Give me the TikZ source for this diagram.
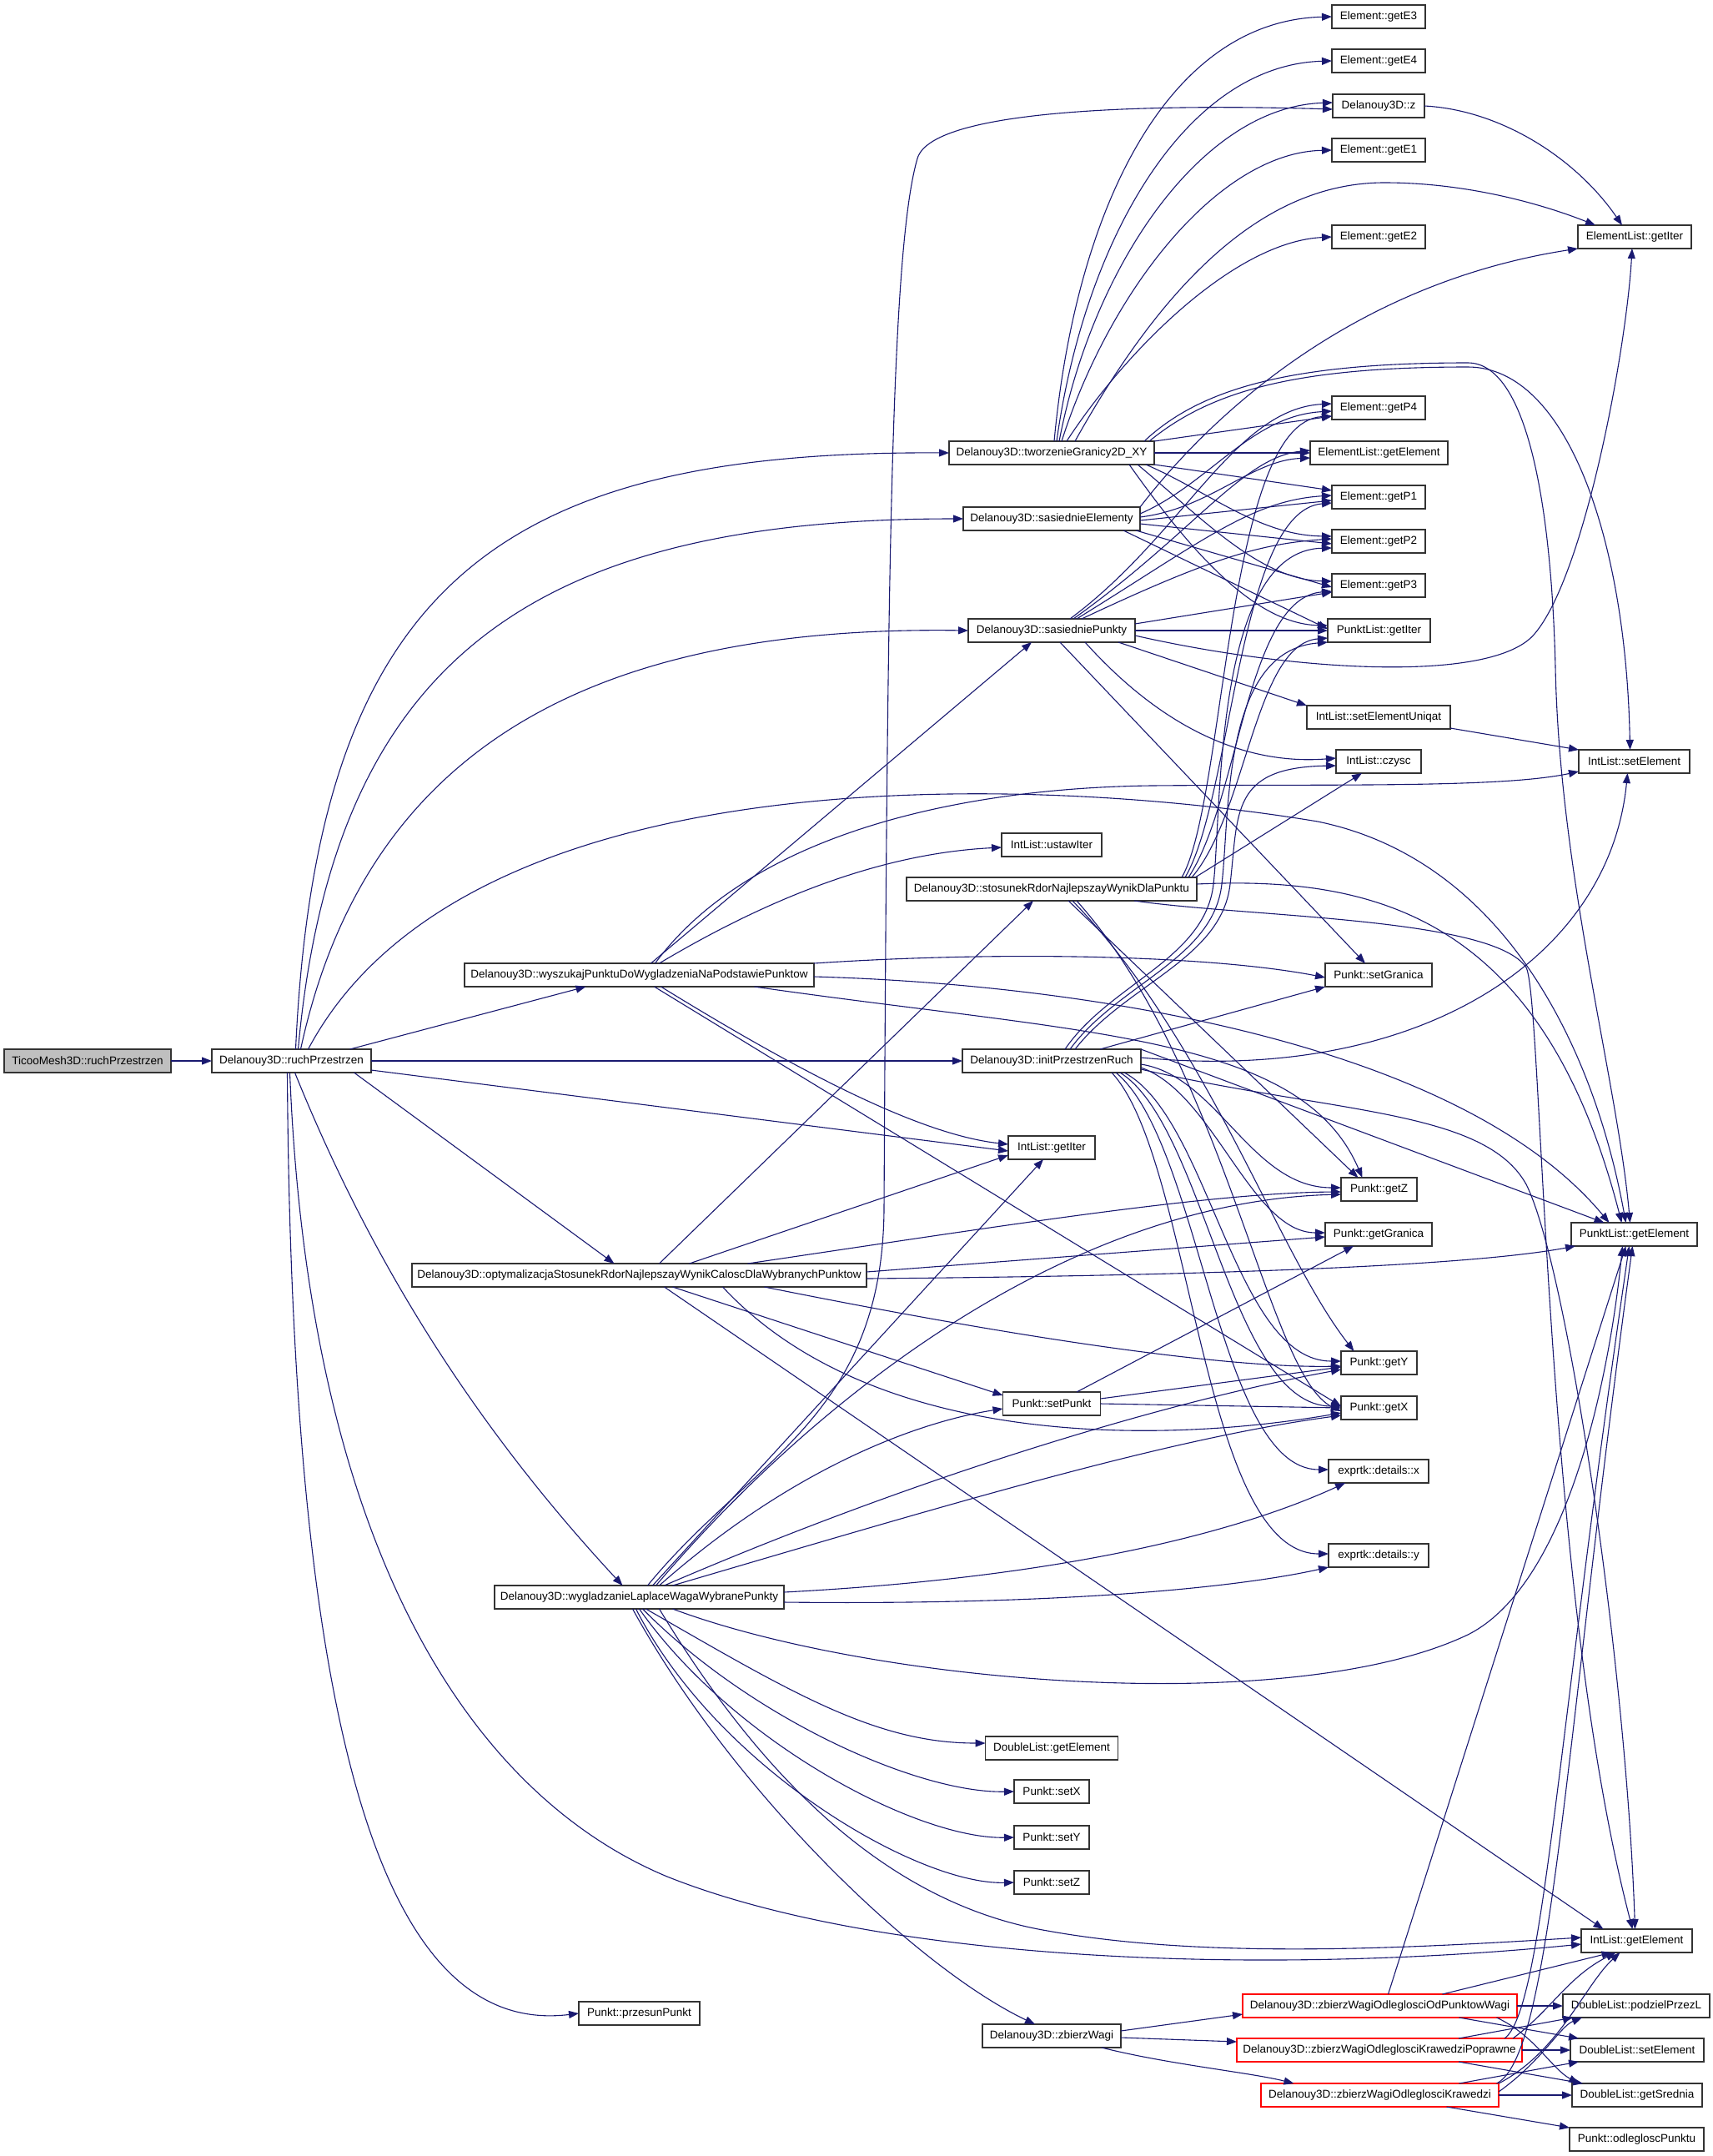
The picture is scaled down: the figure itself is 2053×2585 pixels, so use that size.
\documentclass[tikz,border=0pt]{standalone}
\usepackage{fontspec}
\setmainfont{Liberation Sans}
\usetikzlibrary{arrows.meta}
\definecolor{edgeblue}{HTML}{191970}
\definecolor{rootgray}{HTML}{BFBFBF}
\definecolor{boxline}{HTML}{333333}
\begin{document}
\begin{tikzpicture}[x=1pt,y=-1pt,
				func/.style={draw=boxline,line width=1.6pt,fill=white,minimum height=28pt,inner xsep=5pt,inner ysep=0pt,outer sep=0pt,font=\fontsize{13.5}{15}\selectfont},
				rootfunc/.style={func,fill=rootgray},
				cutfunc/.style={func,draw=red},
				call/.style={draw=edgeblue,line width=1.1pt,-{Triangle[length=12pt,width=9pt]}}]
				\useasboundingbox (0,0) rectangle (2053,2585);
				\node[rootfunc,minimum width=200] (tmesh)   at (105,1272)    {TicooMesh3D::ruchPrzestrzen};
				\node[func,minimum width=191]     (druch)   at (349.5,1272)  {Delanouy3D::ruchPrzestrzen};
				\node[func,minimum width=419]     (wyszuk)  at (766.5,1169)  {Delanouy3D::wyszukajPunktuDoWygladzeniaNaPodstawiePunktow};
				\node[func,minimum width=545]     (optym)   at (766.5,1529)  {Delanouy3D::optymalizacjaStosunekRdorNajlepszayWynikCaloscDlaWybranychPunktow};
				\node[func,minimum width=347]     (wygl)    at (766.5,1915)  {Delanouy3D::wygladzanieLaplaceWagaWybranePunkty};
				\node[func,minimum width=145]     (przes)   at (766.5,2414)  {Punkt::przesunPunkt};
				\node[func,minimum width=246]     (tworz)   at (1261,543)    {Delanouy3D::tworzenieGranicy2D\_XY};
				\node[func,minimum width=212]     (sasEl)   at (1261,622)    {Delanouy3D::sasiednieElementy};
				\node[func,minimum width=200]     (sasPk)   at (1261,756)    {Delanouy3D::sasiedniePunkty};
				\node[func,minimum width=120]     (ustaw)   at (1261,1013)   {IntList::ustawIter};
				\node[func,minimum width=348]     (stosun)  at (1261,1066)   {Delanouy3D::stosunekRdorNajlepszayWynikDlaPunktu};
				\node[func,minimum width=214]     (initP)   at (1261,1272)   {Delanouy3D::initPrzestrzenRuch};
				\node[func,minimum width=104]     (ilIter)  at (1261,1376)   {IntList::getIter};
				\node[func,minimum width=117]     (setPk)   at (1261,1683)   {Punkt::setPunkt};
				\node[func,minimum width=159]     (dlGetEl) at (1261,2096)   {DoubleList::getElement};
				\node[func,minimum width=90]      (setX)    at (1261,2148)   {Punkt::setX};
				\node[func,minimum width=90]      (setY)    at (1261,2203)   {Punkt::setY};
				\node[func,minimum width=90]      (setZ)    at (1261,2257)   {Punkt::setZ};
				\node[func,minimum width=166]     (zbierz)  at (1261,2441)   {Delanouy3D::zbierzWagi};
				\node[func,minimum width=112]     (getE3)   at (1653,20)     {Element::getE3};
				\node[func,minimum width=112]     (getE4)   at (1653,73)     {Element::getE4};
				\node[func,minimum width=110]     (d3z)     at (1653,127)    {Delanouy3D::z};
				\node[func,minimum width=112]     (getE1)   at (1653,180)    {Element::getE1};
				\node[func,minimum width=112]     (getE2)   at (1653,284)    {Element::getE2};
				\node[func,minimum width=112]     (getP4)   at (1653,489)    {Element::getP4};
				\node[func,minimum width=165]     (elGetEl) at (1653.5,543)  {ElementList::getElement};
				\node[func,minimum width=112]     (getP1)   at (1653,596)    {Element::getP1};
				\node[func,minimum width=112]     (getP2)   at (1653,649)    {Element::getP2};
				\node[func,minimum width=112]     (getP3)   at (1653,702)    {Element::getP3};
				\node[func,minimum width=123]     (plIter)  at (1653.5,756)  {PunktList::getIter};
				\node[func,minimum width=172]     (setElU)  at (1653,860)    {IntList::setElementUniqat};
				\node[func,minimum width=102]     (czysc)   at (1653,913)    {IntList::czysc};
				\node[func,minimum width=128]     (setGran) at (1653,1169)   {Punkt::setGranica};
				\node[func,minimum width=91]      (getZ)    at (1653.5,1426) {Punkt::getZ};
				\node[func,minimum width=128]     (getGran) at (1653,1480)   {Punkt::getGranica};
				\node[func,minimum width=91]      (getY)    at (1653.5,1634) {Punkt::getY};
				\node[func,minimum width=91]      (getX)    at (1653.5,1688) {Punkt::getX};
				\node[func,minimum width=120]     (exX)     at (1653,1764)   {exprtk::details::x};
				\node[func,minimum width=120]     (exY)     at (1653,1865)   {exprtk::details::y};
				\node[cutfunc,minimum width=329]  (zbOdP)   at (1654.5,2405) {Delanouy3D::zbierzWagiOdleglosciOdPunktowWagi};
				\node[cutfunc,minimum width=342]  (zbKrP)   at (1654,2458)   {Delanouy3D::zbierzWagiOdleglosciKrawedziPoprawne};
				\node[cutfunc,minimum width=285]  (zbKr)    at (1654.5,2512) {Delanouy3D::zbierzWagiOdleglosciKrawedzi};
				\node[func,minimum width=136]     (elIter)  at (1960,284)    {ElementList::getIter};
				\node[func,minimum width=133]     (ilSetEl) at (1959.5,913)  {IntList::setElement};
				\node[func,minimum width=151]     (plGetEl) at (1959.5,1480) {PunktList::getElement};
				\node[func,minimum width=133]     (ilGetEl) at (1962.5,2327) {IntList::getElement};
				\node[func,minimum width=176]     (podziel) at (1962,2405)   {DoubleList::podzielPrzezL};
				\node[func,minimum width=160]     (dSetEl)  at (1963,2458)   {DoubleList::setElement};
				\node[func,minimum width=156]     (getSred) at (1963,2512)   {DoubleList::getSrednia};
				\node[func,minimum width=161]     (odleg)   at (1962.5,2565) {Punkt::odlegloscPunktu};

				\draw[call] (tmesh.east) -- (druch.west);

				\draw[call] ([xshift=5]druch.north) .. controls (380,700) and (600,540) .. (tworz.west);
				\draw[call] ([xshift=8]druch.north) .. controls (400,790) and (640,622) .. (sasEl.west);
				\draw[call] ([xshift=11]druch.north) .. controls (440,890) and (720,750) .. (sasPk.west);
				\draw[call] ([xshift=70]druch.north) -- ([xshift=-64]wyszuk.south);
				\draw[call] ([xshift=20]druch.north) .. controls (560,900) and (1250,930) .. (1580,985) .. controls (1800,1030) and (1910,1250) .. ([xshift=-10]plGetEl.north);
				\draw[call] ([yshift=-11]druch.east) -- ([yshift=-4]ilIter.west);
				\draw[call] (druch.east) -- (initP.west);
				\draw[call] ([xshift=75]druch.south) -- ([xshift=-30]optym.north);
				\draw[call] ([xshift=4]druch.south) .. controls (440,1500) and (560,1700) .. ([xshift=-20]wygl.north);
				\draw[call] ([xshift=-2]druch.south) .. controls (370,1850) and (560,2150) .. (800,2250) .. controls (1050,2350) and (1500,2370) .. ([yshift=-4]ilGetEl.west);
				\draw[call] ([xshift=-5]druch.south) .. controls (350,2150) and (480,2440) .. (przes.west);

				\draw[call] ([xshift=3]tworz.north) .. controls (1290,250) and (1400,25) .. (getE3.west);
				\draw[call] ([xshift=6]tworz.north) .. controls (1300,290) and (1420,78) .. (getE4.west);
				\draw[call] ([xshift=9]tworz.north) .. controls (1310,320) and (1440,128) .. ([yshift=4]d3z.west);
				\draw[call] ([xshift=12]tworz.north) .. controls (1330,350) and (1460,183) .. (getE1.west);
				\draw[call] ([xshift=18]tworz.north) .. controls (1350,420) and (1480,290) .. (getE2.west);
				\draw[call] ([xshift=28]tworz.north) .. controls (1400,330) and (1520,219) .. (1660,219) .. controls (1760,219) and (1850,245) .. ([xshift=-47]elIter.north);
				\draw[call] (tworz.north east) -- ([yshift=-10]getP4.west);
				\draw[call] (tworz.east) -- (elGetEl.west);
				\draw[call] (tworz.south east) -- ([yshift=8]getP1.west);
				\draw[call] ([xshift=-10]tworz.south east) .. controls (1450,590) and (1510,642) .. ([yshift=6]getP2.west);
				\draw[call] ([xshift=-20]tworz.south east) .. controls (1440,620) and (1510,695) .. ([yshift=5]getP3.west);
				\draw[call] ([xshift=-30]tworz.south east) .. controls (1420,650) and (1500,748) .. ([yshift=6]plIter.west);
				\draw[call] ([xshift=-6]tworz.north east) .. controls (1450,470) and (1550,440) .. (1760,440) .. controls (1880,440) and (1950,650) .. ([xshift=-5]ilSetEl.north);
				\draw[call] ([xshift=-12]tworz.north east) .. controls (1440,465) and (1550,435) .. (1760,435) .. controls (1830,435) and (1860,600) .. (1865,800) .. controls (1870,1050) and (1940,1300) .. ([xshift=-5]plGetEl.north);

				\draw[call] (sasEl.north east) .. controls (1450,500) and (1620,340) .. (elIter.south west);
				\draw[call] ([yshift=6]sasEl.east) .. controls (1450,580) and (1500,498) .. ([yshift=-4]getP4.west);
				\draw[call] ([yshift=2]sasEl.east) .. controls (1450,610) and (1500,552) .. ([yshift=-6]elGetEl.west);
				\draw[call] ([yshift=-2]sasEl.east) -- ([yshift=-4]getP1.west);
				\draw[call] ([yshift=-6]sasEl.east) -- ([yshift=-3]getP2.west);
				\draw[call] ([xshift=-5]sasEl.south east) -- ([yshift=-2]getP3.west);
				\draw[call] ([xshift=-20]sasEl.south east) -- ([yshift=2]plIter.west);

				\draw[call] ([xshift=22]sasPk.north) .. controls (1420,640) and (1480,490) .. ([yshift=5]getP4.west);
				\draw[call] ([xshift=26]sasPk.north) .. controls (1430,640) and (1490,548) .. ([yshift=3]elGetEl.west);
				\draw[call] ([xshift=30]sasPk.north) .. controls (1440,650) and (1500,600) .. ([yshift=2]getP1.west);
				\draw[call] ([xshift=36]sasPk.north) .. controls (1450,670) and (1510,652) .. ([yshift=3]getP2.west);
				\draw[call] ([yshift=8]sasPk.east) -- ([yshift=-8]getP3.west);
				\draw[call] (sasPk.east) -- (plIter.west);
				\draw[call] ([yshift=-6]sasPk.east) .. controls (1550,805) and (1790,820) .. (1840,760) .. controls (1900,690) and (1950,420) .. ([xshift=-3]elIter.south);
				\draw[call] ([xshift=-20]sasPk.south east) -- (setElU.north west);
				\draw[call] ([xshift=40]sasPk.south) .. controls (1400,880) and (1500,917) .. ([yshift=4]czysc.west);
				\draw[call] ([xshift=10]sasPk.south) -- ([xshift=-16]setGran.north);

				\draw[call] ([xshift=14]wyszuk.north) -- ([xshift=-24]sasPk.south);
				\draw[call] ([xshift=24]wyszuk.north) .. controls (950,1060) and (1080,1022) .. ([yshift=-3]ustaw.west);
				\draw[call] ([xshift=19]wyszuk.north) .. controls (900,1000) and (1150,945) .. (1380,942) .. controls (1600,940) and (1800,945) .. ([yshift=-12]ilSetEl.west);
				\draw[call] (wyszuk.north east) .. controls (1200,1140) and (1450,1145) .. ([yshift=-3]setGran.west);
				\draw[call] ([yshift=-2]wyszuk.east) .. controls (1300,1180) and (1750,1250) .. ([xshift=-30]plGetEl.north);
				\draw[call] ([xshift=26]wyszuk.south) .. controls (950,1280) and (1100,1360) .. ([yshift=4]ilIter.west);
				\draw[call] ([xshift=18]wyszuk.south) -- ([yshift=2]getX.west);
				\draw[call] ([xshift=138]wyszuk.south) .. controls (1300,1240) and (1560,1240) .. ([xshift=-20]getZ.north);

				\draw[call] ([xshift=-18]stosun.north east) .. controls (1470,960) and (1470,505) .. ([yshift=-10]getP4.west);
				\draw[call] ([xshift=-14]stosun.north east) .. controls (1478,955) and (1485,612) .. ([yshift=-7]getP1.west);
				\draw[call] ([xshift=-10]stosun.north east) .. controls (1486,960) and (1495,716) .. ([yshift=-7]getP3.west);
				\draw[call] ([xshift=-6]stosun.north east) .. controls (1495,975) and (1505,772) .. ([yshift=-9]plIter.west);
				\draw[call] ([xshift=-2]stosun.north east) -- ([xshift=-20]czysc.south);
				\draw[call] ([yshift=6]stosun.east) .. controls (1650,1050) and (1850,1100) .. ([xshift=-15]plGetEl.north);
				\draw[call] ([xshift=-75]stosun.south east) .. controls (1500,1100) and (1790,1100) .. (1830,1160) .. controls (1850,1200) and (1850,1900) .. ([xshift=-5]ilGetEl.north);
				\draw[call] ([xshift=20]stosun.south) -- ([xshift=-25]getZ.north);
				\draw[call] ([xshift=25]stosun.south) .. controls (1450,1250) and (1530,1500) .. ([xshift=-30]getY.north);
				\draw[call] ([xshift=30]stosun.south) .. controls (1470,1280) and (1520,1650) .. ([yshift=-4]getX.west);

				\draw[call] ([xshift=16]initP.north) .. controls (1330,1180) and (1445,1150) .. (1455,1060) .. controls (1465,975) and (1455,660) .. ([yshift=-8]getP2.west);
				\draw[call] ([xshift=22]initP.north) .. controls (1340,1180) and (1455,1150) .. (1465,1060) .. controls (1475,975) and (1465,780) .. (plIter.south west);
				\draw[call] ([xshift=28]initP.north) .. controls (1350,1180) and (1465,1150) .. (1475,1060) .. controls (1485,975) and (1475,920) .. ([yshift=-5]czysc.west);
				\draw[call] ([xshift=58]initP.north) -- (setGran.south west);
				\draw[call] ([yshift=4]initP.east) .. controls (1700,1300) and (1930,1150) .. ([xshift=-8]ilSetEl.south);
				\draw[call] (initP.north east) -- ([xshift=-36]plGetEl.north);
				\draw[call] ([yshift=-4]initP.east) .. controls (1460,1290) and (1500,1424) .. ([yshift=2]getZ.west);
				\draw[call] ([yshift=-8]initP.east) .. controls (1455,1310) and (1500,1478) .. ([yshift=2]getGran.west);
				\draw[call] ([yshift=-10]initP.east) .. controls (1600,1335) and (1780,1330) .. (1830,1420) .. controls (1880,1520) and (1950,2000) .. ([xshift=-2]ilGetEl.north);
				\draw[call] ([xshift=-20]initP.south east) .. controls (1450,1340) and (1480,1632) .. ([yshift=2]getY.west);
				\draw[call] ([xshift=-25]initP.south east) .. controls (1445,1350) and (1475,1686) .. ([yshift=2]getX.west);
				\draw[call] ([xshift=-30]initP.south east) .. controls (1440,1370) and (1460,1762) .. ([yshift=2]exX.west);
				\draw[call] ([xshift=-35]initP.south east) .. controls (1430,1390) and (1440,1863) .. ([yshift=2]exY.west);

				\draw[call] ([xshift=24]optym.north) -- ([xshift=-22]stosun.south);
				\draw[call] ([xshift=60]optym.north) -- ([yshift=-9]ilIter.west);
				\draw[call] ([xshift=130]optym.north) .. controls (1200,1470) and (1450,1430) .. ([yshift=-3]getZ.west);
				\draw[call] ([yshift=4]optym.east) -- ([yshift=-3]getGran.west);
				\draw[call] ([yshift=-4]optym.east) .. controls (1400,1530) and (1750,1520) .. ([xshift=5]plGetEl.south west);
				\draw[call] ([xshift=40]optym.south) -- ([yshift=10]setPk.west);
				\draw[call] ([xshift=150]optym.south) .. controls (1300,1620) and (1500,1640) .. ([yshift=-4]getY.west);
				\draw[call] ([xshift=100]optym.south) .. controls (1050,1740) and (1400,1730) .. ([yshift=-6]getX.west);
				\draw[call] ([xshift=30]optym.south) -- ([xshift=-40]ilGetEl.north);

				\draw[call] ([xshift=30]setPk.north) -- ([xshift=-30]getGran.south);
				\draw[call] ([yshift=6]setPk.east) -- ([yshift=-5]getY.west);
				\draw[call] (setPk.east) -- (getX.west);

				\draw[call] ([xshift=10]wygl.north) .. controls (900,1750) and (1058,1700) .. (1060,1450) .. controls (1064,700) and (1068,300) .. (1100,190) .. controls (1118,128) and (1400,125) .. ([yshift=-4]d3z.west);
				\draw[call] ([xshift=16]wygl.north) -- ([xshift=-10]ilIter.south);
				\draw[call] ([xshift=24]wygl.north) .. controls (950,1760) and (1100,1705) .. ([yshift=-6]setPk.west);
				\draw[call] ([xshift=20]wygl.north) .. controls (1000,1650) and (1300,1440) .. ([yshift=-6]getZ.west);
				\draw[call] ([xshift=30]wygl.north) .. controls (1100,1770) and (1400,1680) .. ([yshift=-8]getY.west);
				\draw[call] ([xshift=40]wygl.north) .. controls (1150,1800) and (1400,1725) .. ([yshift=-9]getX.west);
				\draw[call] ([yshift=6]wygl.east) .. controls (1300,1890) and (1500,1830) .. ([xshift=-40]exX.south);
				\draw[call] ([yshift=-6]wygl.east) .. controls (1300,1925) and (1500,1900) .. (exY.south west);
				\draw[call] ([xshift=40]wygl.south) .. controls (1050,2020) and (1550,2060) .. (1760,1960) .. controls (1880,1900) and (1930,1650) .. ([xshift=-14]plGetEl.south);
				\draw[call] ([xshift=8]wygl.south) .. controls (950,2030) and (1050,2090) .. ([yshift=6]dlGetEl.west);
				\draw[call] ([xshift=4]wygl.south) .. controls (900,2060) and (1100,2150) .. (setX.west);
				\draw[call] (wygl.south) .. controls (880,2090) and (1100,2205) .. (setY.west);
				\draw[call] ([xshift=-4]wygl.south) .. controls (860,2120) and (1100,2260) .. (setZ.west);
				\draw[call] ([xshift=24]wygl.south) .. controls (900,2110) and (1050,2280) .. (1256,2315) .. controls (1450,2350) and (1700,2335) .. ([yshift=4]ilGetEl.west);
				\draw[call] ([xshift=-8]wygl.south) .. controls (880,2150) and (1100,2360) .. ([xshift=-20]zbierz.north);

				\draw[call] ([yshift=6]zbierz.east) -- ([yshift=-10]zbOdP.west);
				\draw[call] ([yshift=-2]zbierz.east) -- ([yshift=10]zbKrP.west);
				\draw[call] ([xshift=60]zbierz.south) .. controls (1400,2475) and (1500,2485) .. ([xshift=-103]zbKr.north);

				\draw[call] ([xshift=10]zbOdP.north) -- ([xshift=-10]plGetEl.south);
				\draw[call] ([xshift=75]zbOdP.north) -- ([xshift=-30]ilGetEl.south);
				\draw[call] (zbOdP.east) -- (podziel.west);
				\draw[call] ([xshift=95]zbOdP.south) -- ([xshift=-70]dSetEl.north);
				\draw[call] ([xshift=140]zbOdP.south) .. controls (1840,2440) and (1860,2480) .. ([xshift=-70]getSred.north);

				\draw[call] ([xshift=150]zbKrP.north) .. controls (1850,2410) and (1865,2100) .. ([xshift=-6]plGetEl.south);
				\draw[call] ([xshift=160]zbKrP.north) .. controls (1860,2410) and (1880,2370) .. ([xshift=-25]ilGetEl.south);
				\draw[call] ([xshift=95]zbKrP.north) -- ([xshift=-76]podziel.south);
				\draw[call] (zbKrP.east) -- (dSetEl.west);
				\draw[call] ([xshift=95]zbKrP.south) -- ([xshift=-65]getSred.north);

				\draw[call] ([xshift=140]zbKr.north) .. controls (1860,2465) and (1875,2100) .. ([xshift=-2]plGetEl.south);
				\draw[call] (zbKr.north east) .. controls (1870,2460) and (1900,2380) .. ([xshift=-20]ilGetEl.south);
				\draw[call] ([yshift=4]zbKr.east) .. controls (1850,2470) and (1870,2430) .. ([xshift=-65]podziel.south);
				\draw[call] ([xshift=95]zbKr.north) -- ([xshift=10]dSetEl.south west);
				\draw[call] (zbKr.east) -- (getSred.west);
				\draw[call] ([xshift=80]zbKr.south) -- (odleg.north west);

				\draw[call] (d3z.east) .. controls (1800,132) and (1890,190) .. ([xshift=-15]elIter.north);
				\draw[call] ([yshift=-13]setElU.east) -- (ilSetEl.north west);
			\end{tikzpicture}
\end{document}
